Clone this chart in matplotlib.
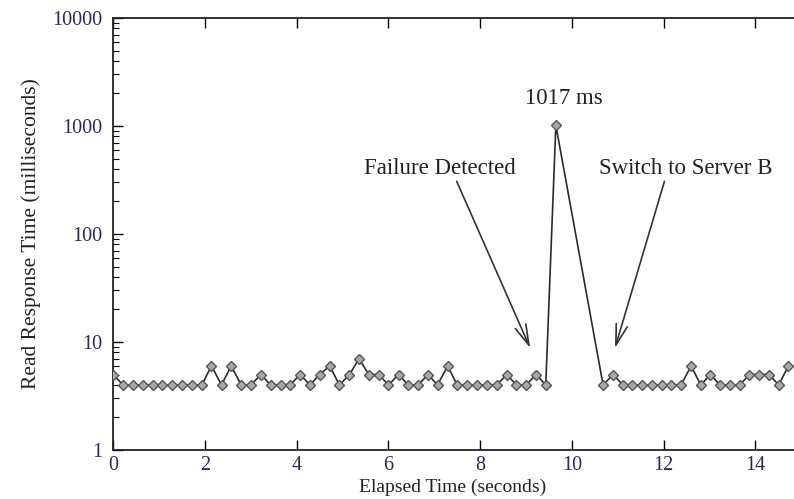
import matplotlib
matplotlib.use("Agg")
import matplotlib.pyplot as plt
from matplotlib.ticker import FixedLocator, LogLocator, NullFormatter

# elapsed time (s) of each read, and response time (ms)
times = [0.00, 0.21, 0.43, 0.64, 0.86, 1.07, 1.29, 1.50, 1.72, 1.93,
         2.14, 2.36, 2.57, 2.79, 3.00, 3.22, 3.43, 3.65, 3.86, 4.07,
         4.29, 4.50, 4.72, 4.93, 5.15, 5.36, 5.57, 5.79, 6.00, 6.22,
         6.43, 6.65, 6.86, 7.07, 7.29, 7.50, 7.72, 7.93, 8.15, 8.36,
         8.58, 8.79, 9.00, 9.22, 9.43, 9.65,
         10.68, 10.90, 11.11, 11.32, 11.53, 11.75, 11.96, 12.17, 12.38, 12.60,
         12.81, 13.02, 13.23, 13.45, 13.66, 13.87, 14.08, 14.30, 14.51, 14.72]
response_ms = [5, 4, 4, 4, 4, 4, 4, 4, 4, 4,
               6, 4, 6, 4, 4, 5, 4, 4, 4, 5,
               4, 5, 6, 4, 5, 7, 5, 5, 4, 5,
               4, 4, 5, 4, 6, 4, 4, 4, 4, 4,
               5, 4, 4, 5, 4, 1017,
               4, 5, 4, 4, 4, 4, 4, 4, 4, 6,
               4, 5, 4, 4, 4, 5, 5, 5, 4, 6]

x_ticks = [0, 2, 4, 6, 8, 10, 12, 14]
y_ticks = [1, 10, 100, 1000, 10000]
y_tick_labels = ["1", "10", "100", "1000", "10000"]

plt.rcParams['font.family'] = ['Liberation Serif', 'DejaVu Serif']

W, H = 794, 499
fig = plt.figure(figsize=(W / 100, H / 100), dpi=100)
x0_px, x1_px = 113.3, 113.3 + 20 * 45.86
y_top, y_bot = 18, 450
ax = fig.add_axes([x0_px / W, (H - y_bot) / H, (x1_px - x0_px) / W, (y_bot - y_top) / H])

ax.plot(times, response_ms, color='#2a2a2a', lw=1.2, marker='D', ms=5.2,
        mfc='#a8a8a8', mec='#555555', mew=1.0, zorder=3)

ax.set_yscale('log')
ax.set_xlim(0, 20)
ax.set_ylim(1, 10000)
ax.xaxis.set_major_locator(FixedLocator(x_ticks))
ax.yaxis.set_major_locator(FixedLocator(y_ticks))
ax.set_yticklabels(y_tick_labels)
ax.yaxis.set_minor_locator(LogLocator(base=10, subs=range(2, 10)))
ax.yaxis.set_minor_formatter(NullFormatter())

ax.tick_params(axis='both', which='major', direction='in', length=7, width=1,
               labelsize=14.5, labelcolor='#2b2b55', top=True, right=True)
ax.tick_params(axis='y', which='minor', direction='in', length=4, width=0.8, right=True)
ax.tick_params(axis='x', pad=4)
ax.tick_params(axis='y', pad=8)
for s in ax.spines.values():
    s.set_linewidth(1.3)
    s.set_color('#222222')

ax.set_xlabel('Elapsed Time (seconds)', fontsize=14, color='#222222', labelpad=0,
              va='center')
ax.xaxis.set_label_coords((453 - x0_px) / (x1_px - x0_px), -(487 - y_bot) / (y_bot - y_top))
ax.set_ylabel('Read Response Time (milliseconds)', fontsize=15.5, color='#222222')
ax.yaxis.set_label_coords(-72 / (x1_px - x0_px), 0.5)

ann_kw = dict(fontsize=16.5, color='#222222', ha='center', va='center')
arrow = dict(arrowstyle='->,head_length=0.9,head_width=0.25', color='#333333', lw=1.2,
             shrinkA=0, shrinkB=0)
ax.annotate('Failure Detected', xy=(9.09, 8.8), xytext=(7.13, 408),
            arrowprops=dict(arrow, relpos=(0.6, 0.0)), **ann_kw)
ax.annotate('Switch to Server B', xy=(10.94, 8.8), xytext=(12.49, 408),
            arrowprops=dict(arrow, relpos=(0.38, 0.0)), **ann_kw)
ax.text(9.83, 1816, '1017 ms', **ann_kw)

fig.savefig('out.png', dpi=100)
